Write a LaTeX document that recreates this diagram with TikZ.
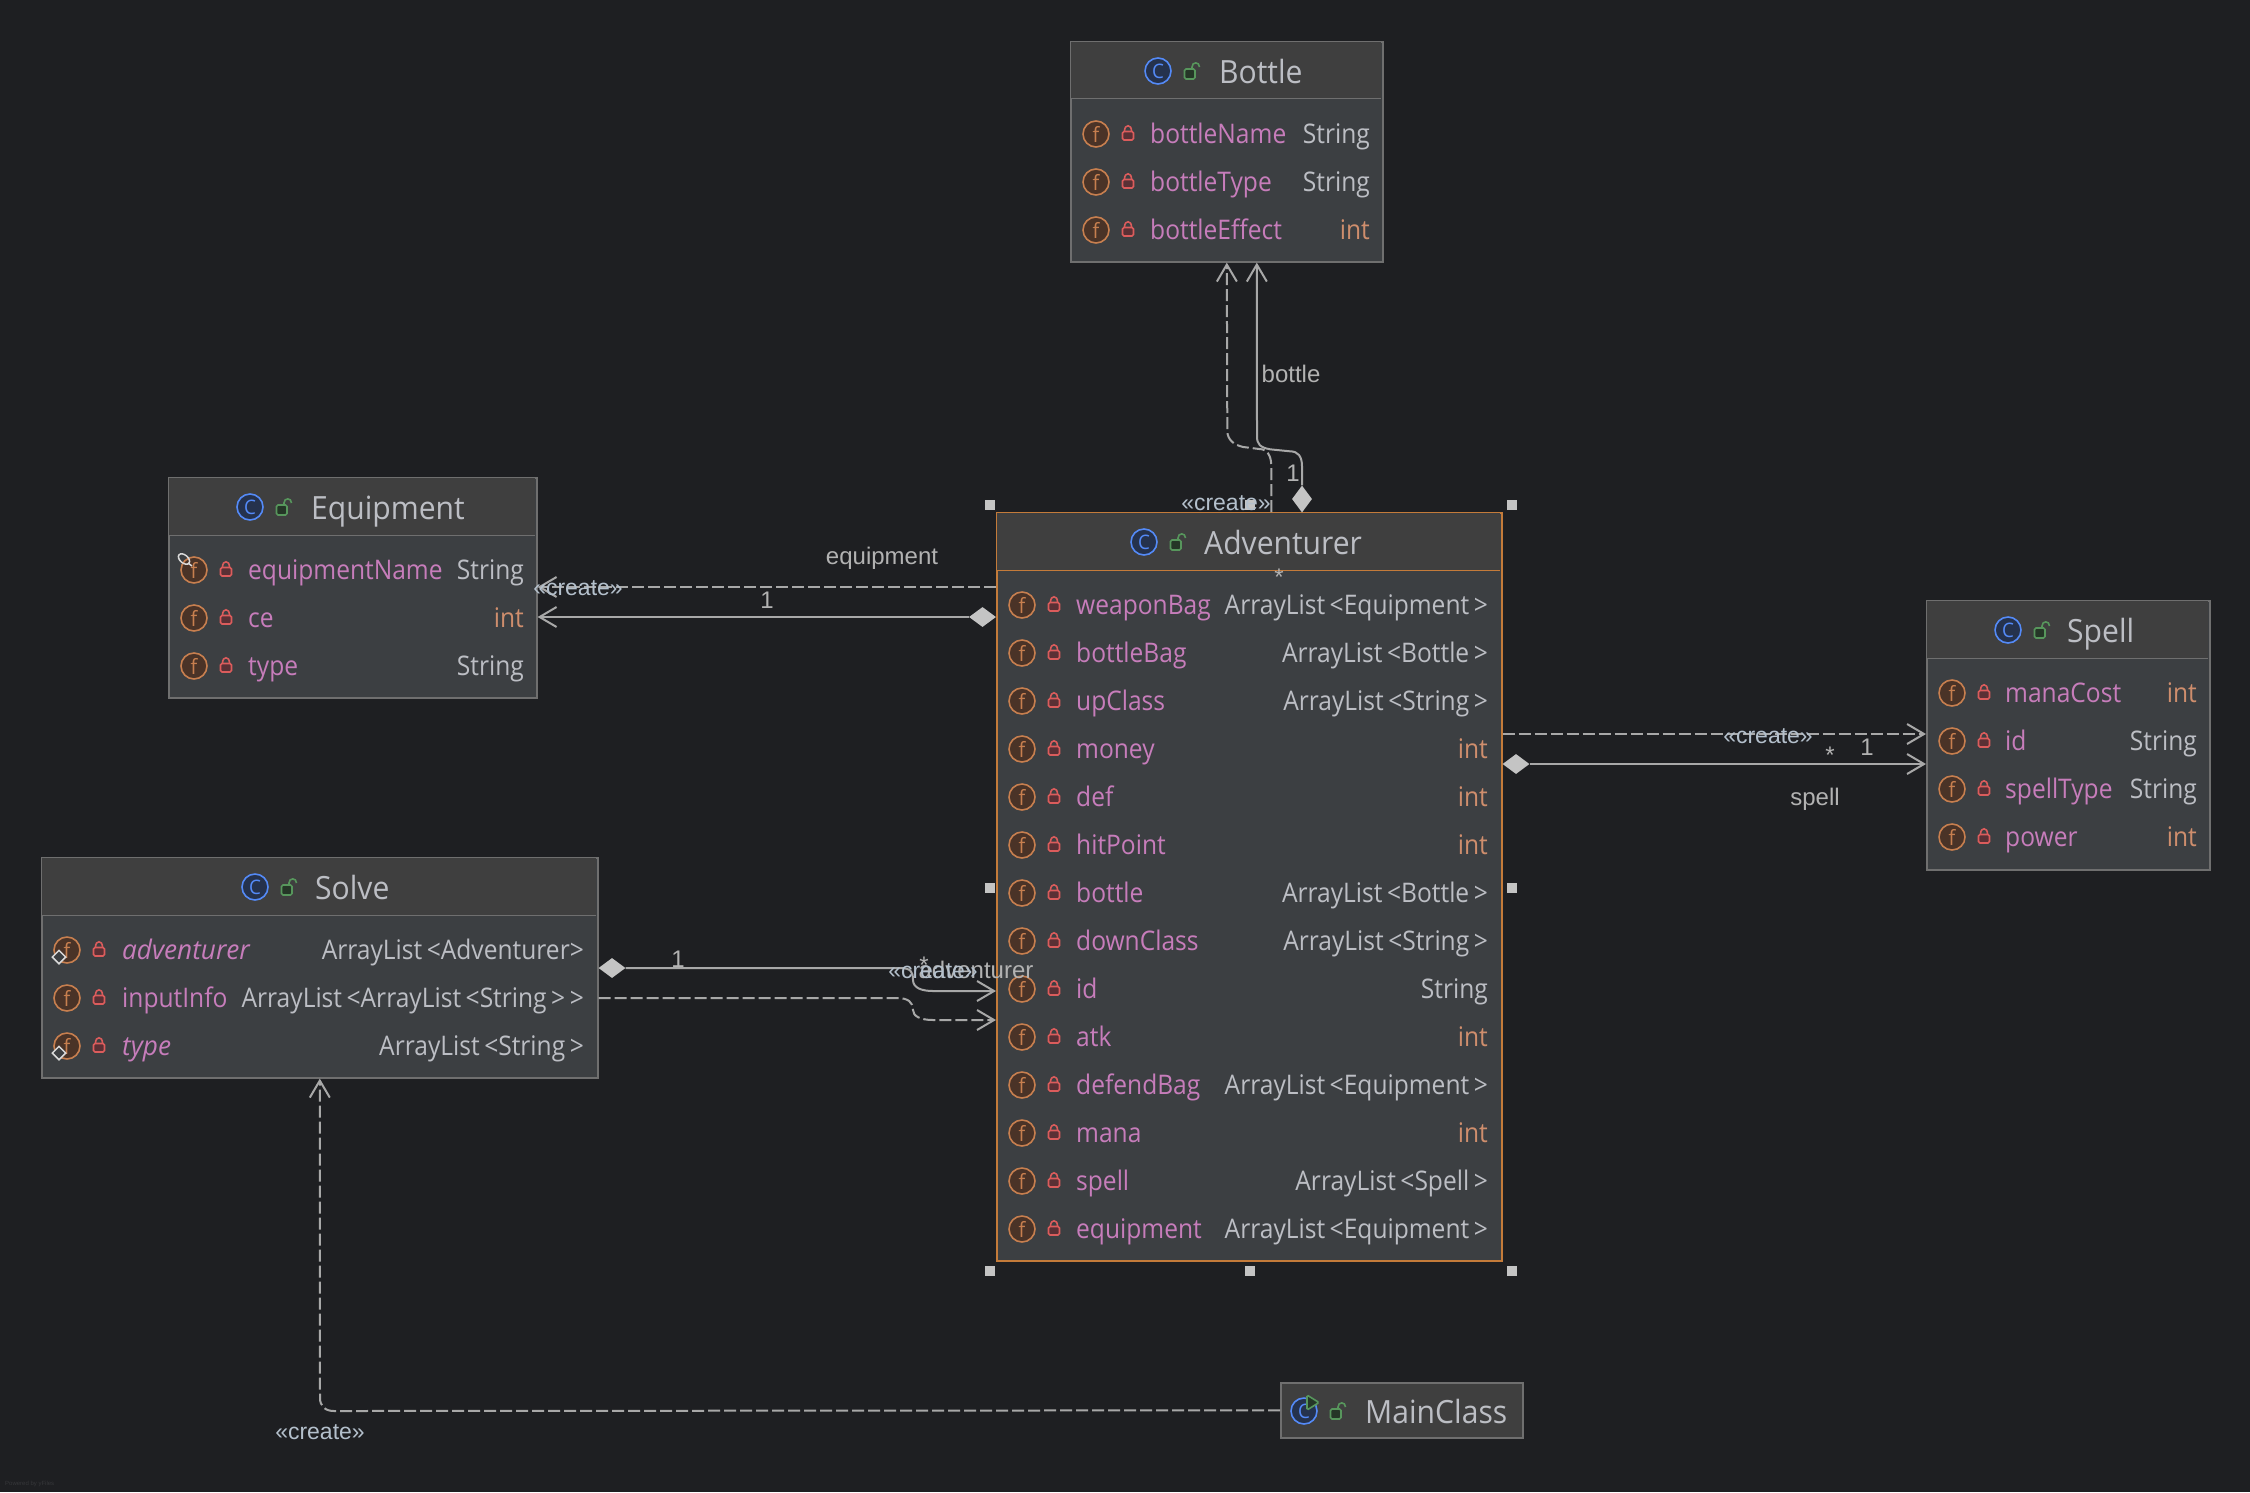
\documentclass[tikz,border=0pt]{standalone}
\usepackage{fontspec}
\setmainfont{Open Sans}[FakeStretch=0.94]
\newfontfamily\fieldfont{Open Sans}[FakeStretch=0.91]
\newfontfamily\italfont{Open Sans}[FakeStretch=0.97]
\newfontfamily\edgefont{Liberation Sans}
\usetikzlibrary{arrows.meta,shapes.geometric}
\definecolor{bgc}{HTML}{1E1F22}
\definecolor{headc}{HTML}{3F3F3F}
\definecolor{bodyc}{HTML}{3C3F42}
\definecolor{borderc}{HTML}{6F6F6F}
\definecolor{selc}{HTML}{C47B3A}
\definecolor{namec}{HTML}{C77DBB}
\definecolor{typec}{HTML}{BCBEC4}
\definecolor{intc}{HTML}{CF8E6D}
\definecolor{ficonc}{HTML}{C77F4F}
\definecolor{ffillc}{HTML}{4A3327}
\definecolor{lockc}{HTML}{DB5C5C}
\definecolor{lockf}{HTML}{5A3035}
\definecolor{cblue}{HTML}{548AF7}
\definecolor{cfill}{HTML}{25324D}
\definecolor{greenc}{HTML}{57965C}
\definecolor{greenf}{HTML}{253627}
\definecolor{edgec}{HTML}{A8A8A8}
\definecolor{diac}{HTML}{C4C4C4}
\definecolor{lblc}{HTML}{B2B2B2}
\definecolor{crec}{HTML}{B4C0CC}
\definecolor{markc}{HTML}{36373A}
\tikzset{
  x=1pt,y=-1pt,
  classbody/.style={draw=borderc,line width=1.6pt,fill=bodyc,rectangle,inner sep=0,anchor=north west},
  sel/.style={draw=selc},
  titletext/.style={anchor=base west,inner sep=0,text=typec,font=\fontsize{32}{36}\selectfont},
  nametext/.style={anchor=base west,inner sep=0,text=namec,font=\fieldfont\fontsize{27}{30}\selectfont},
  typetext/.style={anchor=base east,inner sep=0,text=typec,font=\fieldfont\fontsize{27}{30}\selectfont},
  italname/.style={font=\italfont\itshape\fontsize{27}{30}\selectfont},
  ficon/.style={circle,draw=ficonc,fill=ffillc,line width=1.6pt,minimum size=26pt,inner sep=0,text=ficonc,font=\fontsize{21}{21}\selectfont},
  cicon/.style={circle,draw=cblue,fill=cfill,line width=1.6pt,minimum size=26pt,inner sep=0,text=cblue,font=\fontsize{20}{20}\selectfont},
  edgeline/.style={draw=edgec,line width=2pt},
  dashedge/.style={edgeline,dash pattern=on 12pt off 4pt},
  openarrow/.style={-{Straight Barb[length=17pt,width=20pt,line width=2pt]}},
  dia/.style={diamond,fill=diac,inner sep=0,minimum width=27pt,minimum height=20pt,aspect=1.35},
  diaV/.style={diamond,fill=diac,inner sep=0,minimum width=20pt,minimum height=27pt,aspect=0.74},
  handle/.style={rectangle,fill=diac,inner sep=0,minimum size=10pt},
  lbl/.style={inner sep=0,text=lblc,font=\edgefont\fontsize{24}{26}\selectfont},
  crelbl/.style={inner sep=0,text=crec,font=\edgefont\fontsize{23}{26}\selectfont},
  wmark/.style={anchor=west,inner sep=0,text=markc,font=\edgefont\fontsize{6}{7}\selectfont},
}
% red lock
\newcommand{\redlock}[2]{%
  \draw[lockc,line width=1.6pt,fill=lockf,rounded corners=1.5pt] (#1-5.5,#2-2.5) rectangle (#1+5.5,#2+6);
  \draw[lockc,line width=1.6pt] (#1-3.5,#2-3) .. controls (#1-3.5,#2-10) and (#1+3.5,#2-10) .. (#1+3.5,#2-3);}
% green lock, positioned from icon centre
\newcommand{\greenlock}[2]{%
  \draw[greenc,line width=1.6pt,fill=greenf,rounded corners=1.5pt] (#1+26.5,#2-2) rectangle (#1+37,#2+8);
  \draw[greenc,line width=1.6pt] (#1+34,#2-2) -- (#1+34,#2-4) .. controls (#1+34,#2-9.5) and (#1+41.5,#2-9.5) .. (#1+41.5,#2-4);}
\newcommand{\setcols}[4]{\def\fx{#1}\def\lx{#2}\def\nx{#3}\def\rx{#4}}
% id, row centre y, name, type text, type colour, extra name style
\newcommand{\frow}[6]{%
  \node[ficon] (#1f) at (\fx,#2) {f};
  \redlock{\lx}{#2}
  \node[nametext,#6] (#1n) at (\nx-1,#2+9) {#3};
  \node[typetext,text=#5] (#1t) at (\rx+1,#2+9) {#4};}
\newcommand{\chead}[5]{%
  \node[cicon] (#1c) at (#2,#3) {C};
  \greenlock{#2}{#3}
  \node[titletext] (#1h) at (#4-1,#3+12) {#5};}
\begin{document}
\begin{tikzpicture}
\useasboundingbox (0,0) rectangle (2250,1492);
\fill[bgc] (0,0) rectangle (2250,1492);

% class boxes
\node[classbody,minimum width=312pt,minimum height=220pt] (bottle) at (1070,41) {};
\fill[headc] (1071,42) rectangle (1381,98);
\draw[borderc,line width=1.6pt] (1071,98.5) -- (1381,98.5);
\node[classbody,minimum width=368pt,minimum height=220pt] (equip) at (168,477) {};
\fill[headc] (169,478) rectangle (535,535);
\draw[borderc,line width=1.6pt] (169,535.5) -- (535,535.5);
\node[classbody,minimum width=556pt,minimum height=220pt] (solve) at (41,857) {};
\fill[headc] (42,858) rectangle (596,915);
\draw[borderc,line width=1.6pt] (42,915.5) -- (596,915.5);
\node[classbody,minimum width=283pt,minimum height=269pt] (spell) at (1926,600) {};
\fill[headc] (1927,601) rectangle (2208,658);
\draw[borderc,line width=1.6pt] (1927,658.5) -- (2208,658.5);
\node[classbody,fill=headc,minimum width=242pt,minimum height=55pt] (mainc) at (1280,1382) {};
\node[classbody,sel,minimum width=505pt,minimum height=748pt] (adv) at (996,512) {};
\fill[headc] (997,513) rectangle (1500,570);
\draw[selc,line width=1.6pt] (997,570.5) -- (1500,570.5);

% headers
\chead{bo}{1158}{71}{1220}{Bottle}
\chead{eq}{250}{507}{312}{Equipment}
\chead{so}{255}{887}{316}{Solve}
\chead{sp}{2008}{630}{2068}{Spell}
\chead{ad}{1144}{542}{1205}{Adventurer}
\chead{ma}{1304}{1411}{1366}{MainClass}
\draw[greenc,line width=1.6pt,fill=greenf,rounded corners=1.5pt] (1307,1395) -- (1319,1402.5) -- (1307,1410) -- cycle;

% Bottle fields
\setcols{1096}{1128}{1151}{1369}
\frow{b1}{134}{bottleName}{String}{typec}{}
\frow{b2}{182}{bottleType}{String}{typec}{}
\frow{b3}{230}{bottleEffect}{int}{intc}{}
% Equipment fields
\setcols{194}{226}{249}{523}
\frow{e1}{570}{equipmentName}{String}{typec}{}
\frow{e2}{618}{ce}{int}{intc}{}
\frow{e3}{666}{type}{String}{typec}{}
\draw[white!85!black,line width=1.5pt,rotate around={-40:(184,559)}] (184,559) ellipse [x radius=6.5,y radius=4];
\draw[white!85!black,line width=1.5pt] (188,563) -- (192,566);
% Solve fields
\setcols{67}{99}{123}{583}
\frow{s1}{950}{adventurer}{ArrayList\,<Adventurer>}{typec}{italname}
\frow{s2}{998}{inputInfo}{ArrayList\,<ArrayList\,<String\,>\,>}{typec}{}
\frow{s3}{1046}{type}{ArrayList\,<String\,>}{typec}{italname}
\node[diamond,draw=white!85!black,fill=bodyc,line width=1.5pt,minimum size=14pt,inner sep=0] (s1b) at (59,957) {};
\node[diamond,draw=white!85!black,fill=bodyc,line width=1.5pt,minimum size=14pt,inner sep=0] (s3b) at (59,1053) {};
% Spell fields
\setcols{1952}{1984}{2006}{2196}
\frow{p1}{693}{manaCost}{int}{intc}{}
\frow{p2}{741}{id}{String}{typec}{}
\frow{p3}{789}{spellType}{String}{typec}{}
\frow{p4}{837}{power}{int}{intc}{}
% Adventurer fields
\setcols{1022}{1054}{1077}{1487}
\frow{a01}{605}{weaponBag}{ArrayList\,<Equipment\,>}{typec}{}
\frow{a02}{653}{bottleBag}{ArrayList\,<Bottle\,>}{typec}{}
\frow{a03}{701}{upClass}{ArrayList\,<String\,>}{typec}{}
\frow{a04}{749}{money}{int}{intc}{}
\frow{a05}{797}{def}{int}{intc}{}
\frow{a06}{845}{hitPoint}{int}{intc}{}
\frow{a07}{893}{bottle}{ArrayList\,<Bottle\,>}{typec}{}
\frow{a08}{941}{downClass}{ArrayList\,<String\,>}{typec}{}
\frow{a09}{989}{id}{String}{typec}{}
\frow{a10}{1037}{atk}{int}{intc}{}
\frow{a11}{1085}{defendBag}{ArrayList\,<Equipment\,>}{typec}{}
\frow{a12}{1133}{mana}{int}{intc}{}
\frow{a13}{1181}{spell}{ArrayList\,<Spell\,>}{typec}{}
\frow{a14}{1229}{equipment}{ArrayList\,<Equipment\,>}{typec}{}

% connectors: Adventurer -> Bottle
\draw[dashedge,openarrow] ([xshift=22pt]adv.north) -- ++(0,-46) .. controls ++(0,-10) and ++(8,0) .. ++(-12,-17) -- ++(-16,-2) .. controls ++(-10,-2) and ++(0,8) .. ++(-16,-16) -- (bottle.south);
\node[diaV] (advdia) at (1302,499) {};
\draw[edgeline,openarrow] (advdia.north) -- ++(0,-19) .. controls ++(0,-10) and ++(8,0) .. ++(-12,-15) -- ++(-20,-2) .. controls ++(-10,-2) and ++(0,8) .. ++(-13,-13) -- ([xshift=30pt]bottle.south);
% Adventurer -> Equipment
\draw[dashedge,openarrow] (adv.north west |- 0,587) -- (equip.east |- 0,587);
\node[dia] (eqdia) at (982.5,617) {};
\draw[edgeline,openarrow] (eqdia.west) -- (equip.east |- 0,617);
% Adventurer -> Spell
\draw[dashedge,openarrow] (adv.north east |- 0,734) -- (spell.north west |- 0,734);
\node[dia] (spdia) at (1516,764) {};
\draw[edgeline,openarrow] (spdia.east) -- (spell.north west |- 0,764);
% Solve -> Adventurer
\node[dia] (sodia) at (612,968) {};
\draw[edgeline,openarrow] (sodia.east) -- (900,968) .. controls (911,968) and (913,972) .. (913,980) .. controls (913,988) and (922,991) .. (933,991) -- (adv.north west |- 0,991);
\draw[dashedge,openarrow] (solve.north east |- 0,998) -- (897,998) .. controls (908,998) and (913,1002) .. (913,1010) .. controls (913,1016) and (920,1020) .. (933,1020) -- (adv.north west |- 0,1020);
% MainClass -> Solve
\draw[dashedge,openarrow] (mainc.west) -- (334,1411) .. controls (325,1411) and (320,1406) .. (320,1398) -- (solve.south);

% handles
\node[handle] (h1) at (989.5,505) {};
\node[handle] (h2) at (1250,505) {};
\node[handle] (h3) at (1511.5,505) {};
\node[handle] (h4) at (989.5,888) {};
\node[handle] (h5) at (1511.5,888) {};
\node[handle] (h6) at (989.5,1271) {};
\node[handle] (h7) at (1250,1271) {};
\node[handle] (h8) at (1511.5,1271) {};

% edge labels
\node[lbl] (l1) at (1291,374) {bottle};
\node[lbl] (l2) at (1293,473) {1};
\node[crelbl] (l3) at (1226,503) {«create»};
\node[lbl] (l4) at (1279,577) {*};
\node[lbl] (l5) at (882,558) {equipment};
\node[lbl] (l6) at (767,600) {1};
\node[crelbl] (l7) at (578,588) {«create»};
\node[crelbl] (l8) at (1768,736) {«create»};
\node[lbl] (l9) at (1830,755) {*};
\node[lbl] (l10) at (1867,747) {1};
\node[lbl] (l11) at (1815,799) {spell};
\node[lbl] (l12) at (678,959) {1};
\node[lbl] (l13) at (976,970) {adventurer};
\node[crelbl] (l14) at (933,971) {«create»};
\node[lbl] (l15) at (924,965) {*};
\node[crelbl] (l16) at (320,1432) {«create»};
\node[wmark] (wm) at (5,1484) {Powered by yFiles};
\end{tikzpicture}
\end{document}
